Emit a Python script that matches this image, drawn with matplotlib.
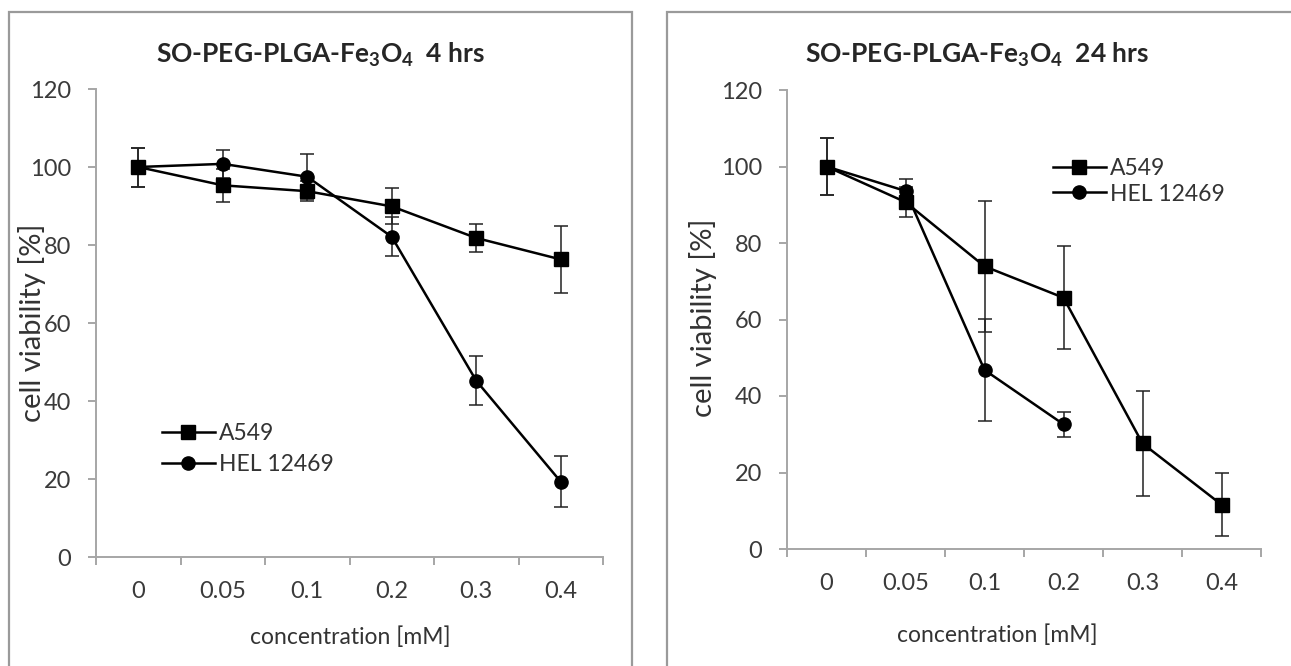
import numpy as np
import matplotlib
matplotlib.use("Agg")
import matplotlib.pyplot as plt
from matplotlib.patches import Rectangle

plt.rcParams['font.family'] = ['Lato', 'DejaVu Sans']
plt.rcParams['mathtext.fontset'] = 'custom'
plt.rcParams['mathtext.rm'] = 'Lato:bold'
plt.rcParams['mathtext.bf'] = 'Lato:bold'
plt.rcParams['mathtext.it'] = 'Lato:bold'

conc = ['0', '0.05', '0.1', '0.2', '0.3', '0.4']

# 4 hrs
a549_4h = [100, 95.3, 93.8, 89.9, 81.8, 76.3]
a549_4h_err = [5.0, 4.3, 2.6, 4.6, 3.5, 8.7]
hel_4h = [100, 100.8, 97.5, 82.1, 45.2, 19.3]
hel_4h_err = [5.0, 3.6, 5.8, 5.0, 6.3, 6.6]

# 24 hrs (HEL 12469 only measured up to 0.2 mM)
a549_24h = [100, 90.7, 73.9, 65.7, 27.6, 11.6]
a549_24h_err = [7.5, 4.0, 17.2, 13.5, 13.7, 8.2]
hel_24h = [100, 93.6, 46.8, 32.6]
hel_24h_err = [7.5, 3.1, 13.3, 3.3]

W, H = 1291, 666
fig = plt.figure(figsize=(W / 100, H / 100), dpi=100)

# panel frames
for x0, x1 in [(9, 632), (667, 1300)]:
    fig.patches.append(Rectangle((x0 / W, -0.01), (x1 - x0) / W, 1.01 - 12 / H,
                                 transform=fig.transFigure, fill=False,
                                 edgecolor='#9a9a9a', lw=1.6))


def px_axes(x0, x1, ytop, ybot):
    return fig.add_axes([x0 / W, 1 - ybot / H, (x1 - x0) / W, (ybot - ytop) / H])


def style(ax):
    x = np.arange(len(conc))
    ax.set_xlim(-0.5, len(conc) - 0.5)
    ax.set_ylim(0, 120)
    ax.set_yticks(np.arange(0, 121, 20))
    ax.set_xticks(np.arange(-0.5, len(conc), 1.0))
    ax.set_xticklabels([])
    ax.set_xticks(x, minor=True)
    ax.set_xticklabels(conc, minor=True)
    for s in ['top', 'right']:
        ax.spines[s].set_visible(False)
    for s in ['left', 'bottom']:
        ax.spines[s].set_color('#a6a6a6')
        ax.spines[s].set_linewidth(1.4)
    ax.tick_params(axis='x', which='major', length=6, width=1.4, color='#a6a6a6')
    ax.tick_params(axis='x', which='minor', length=0, pad=17, labelsize=17,
                   labelcolor='#3a3a3a')
    ax.tick_params(axis='y', length=6, width=1.4, color='#a6a6a6', pad=12,
                   labelsize=17, labelcolor='#3a3a3a')


def series(ax, vals, err, marker, ms):
    x = np.arange(len(vals))
    c = ax.errorbar(x, vals, yerr=err, color='black', lw=1.8, marker=marker,
                    ms=ms, ecolor='#222222', elinewidth=1.1, capsize=5,
                    capthick=1.1)
    return c[0]


def legend(ax, handles, anchor, spacing):
    ax.legend(handles, ['A549', 'HEL 12469'], loc='upper left',
              bbox_to_anchor=anchor, frameon=False, fontsize=16.5,
              handlelength=2.3, handletextpad=0.2, numpoints=1,
              borderpad=0, borderaxespad=0, labelspacing=spacing,
              labelcolor='#333333')


ax1 = px_axes(96, 603, 89, 557)
style(ax1)
h1 = series(ax1, a549_4h, a549_4h_err, 's', 10)
h2 = series(ax1, hel_4h, hel_4h_err, 'o', 9.5)
legend(ax1, [h1, h2], (0.13, 0.287), 0.45)

ax2 = px_axes(787, 1261, 90, 549)
style(ax2)
h3 = series(ax2, a549_24h, a549_24h_err, 's', 10)
h4 = series(ax2, hel_24h, hel_24h_err, 'o', 9.5)
legend(ax2, [h3, h4], (0.561, 0.852), 0.2)

title_kw = dict(ha='center', va='center', fontsize=19, fontweight='bold',
                color='#262626')
fig.text(320 / W, 1 - 55 / H, r'SO-PEG-PLGA-Fe$_3$O$_4$  4 hrs', **title_kw)
fig.text(977 / W, 1 - 55 / H, r'SO-PEG-PLGA-Fe$_3$O$_4$  24 hrs', **title_kw)

lab_kw = dict(ha='center', va='center', fontsize=16.5, color='#333333')
fig.text(32 / W, 1 - 323 / H, 'cell viability [%]', rotation=90,
         **{**lab_kw, 'fontsize': 21})
fig.text(703 / W, 1 - 318 / H, 'cell viability [%]', rotation=90,
         **{**lab_kw, 'fontsize': 21})
fig.text(350 / W, 1 - 637 / H, 'concentration [mM]', **lab_kw)
fig.text(997 / W, 1 - 635 / H, 'concentration [mM]', **lab_kw)

fig.savefig('out.png', dpi=100)
